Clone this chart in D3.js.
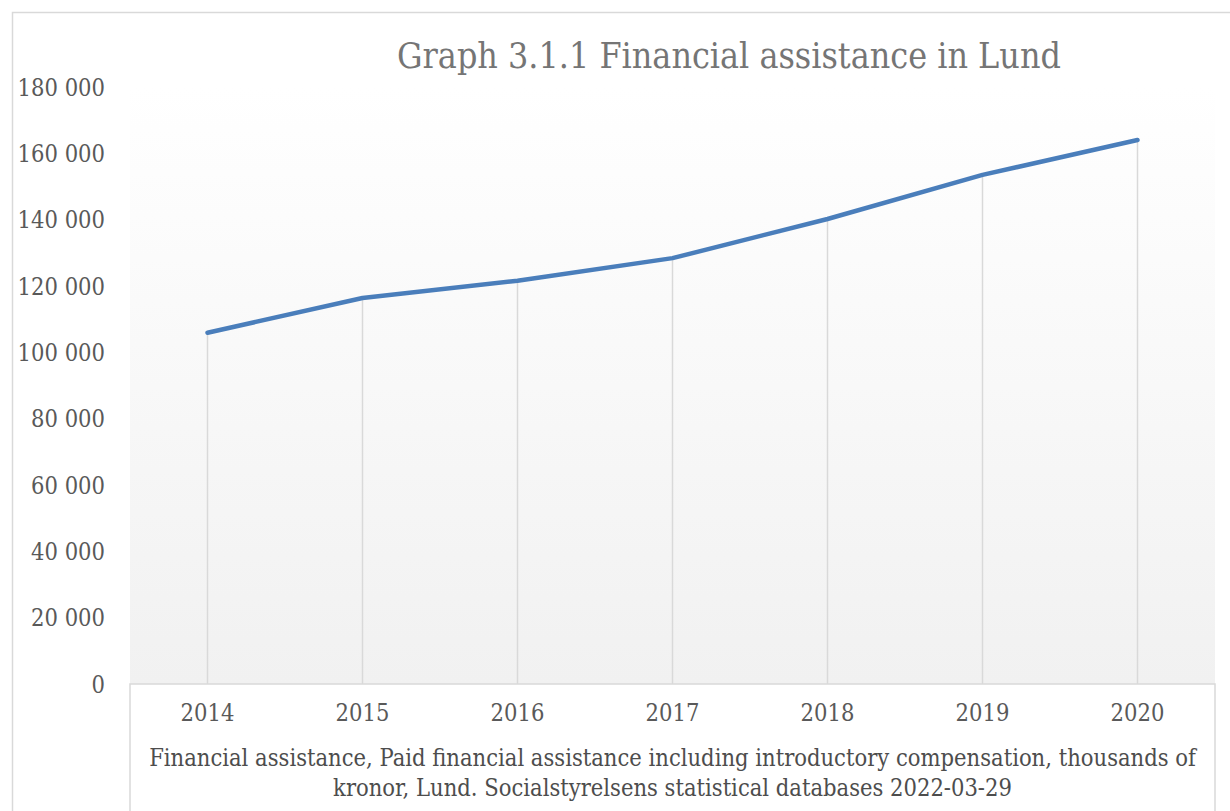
<!DOCTYPE html>
<meta charset="utf-8">
<script src="https://d3js.org/d3.v7.min.js"></script>
<style>
  body { margin: 0; background: #fff; }
  text { font-family: "DejaVu Serif Condensed", "DejaVu Serif", serif; }
</style>
<div id="my_dataviz"></div>
<script>
// data
var years = ["2014", "2015", "2016", "2017", "2018", "2019", "2020"];
var values = [105900, 116400, 121600, 128400, 140200, 153500, 164000];
var yTicks = [0, 20000, 40000, 60000, 80000, 100000, 120000, 140000, 160000, 180000];
var title = "Graph 3.1.1 Financial assistance in Lund";
var note = ["Financial assistance, Paid financial assistance including introductory compensation, thousands of",
            "kronor, Lund. Socialstyrelsens statistical databases 2022-03-29"];

var W = 1230, H = 811;
var margin = {top: 87, right: 15, bottom: 127, left: 130},
    width = W - margin.left - margin.right,
    height = H - margin.top - margin.bottom;

var svg = d3.select("#my_dataviz")
  .append("svg")
    .attr("width", W)
    .attr("height", H);

// outer chart border
svg.append("rect")
  .attr("x", 12.5).attr("y", 12.5)
  .attr("width", W + 20).attr("height", H + 20)
  .attr("fill", "none")
  .attr("stroke", "#d9d9d9")
  .attr("stroke-width", 1.5);

// plot background gradient
var grad = svg.append("defs").append("linearGradient")
  .attr("id", "bg").attr("x1", 0).attr("y1", 0).attr("x2", 0).attr("y2", 1);
grad.append("stop").attr("offset", "0%").attr("stop-color", "#ffffff");
grad.append("stop").attr("offset", "100%").attr("stop-color", "#f1f1f1");

var g = svg.append("g")
  .attr("transform", "translate(" + margin.left + "," + margin.top + ")");

g.append("rect")
  .attr("x", 0).attr("y", 0)
  .attr("width", width).attr("height", height)
  .attr("fill", "url(#bg)");

var x = d3.scaleBand()
  .domain(years)
  .range([0, width]);

var y = d3.scaleLinear()
  .domain([0, 180000])
  .range([height, 0]);

var fmt = function(d) { return d3.format(",")(d).replace(/,/g, " "); };

// box under the category axis
g.append("path")
  .attr("d", "M0," + (height + 130) + "V" + height + "H" + width + "V" + (height + 130))
  .attr("fill", "#fff")
  .attr("stroke", "#d9d9d9")
  .attr("stroke-width", 1.5);

// y axis labels
var yAxis = g.append("g")
  .attr("transform", "translate(-22,0)")
  .call(d3.axisLeft(y).tickValues(yTicks).tickFormat(fmt).tickSize(0));
yAxis.select(".domain").remove();
yAxis.selectAll("text")
  .attr("fill", "#595959")
  .style("font-size", "23.5px")
  .attr("dy", "0.35em");

// x axis labels
var xAxis = g.append("g")
  .attr("transform", "translate(0," + height + ")")
  .call(d3.axisBottom(x).tickSize(0));
xAxis.select(".domain").remove();
xAxis.selectAll("text")
  .attr("fill", "#595959")
  .style("font-size", "23.5px")
  .attr("y", 20);

// drop lines
g.append("g")
  .selectAll("line")
  .data(values)
  .enter()
  .append("line")
    .attr("x1", function(d, i) { return x(years[i]) + x.bandwidth() / 2; })
    .attr("x2", function(d, i) { return x(years[i]) + x.bandwidth() / 2; })
    .attr("y1", function(d) { return y(d); })
    .attr("y2", height)
    .attr("stroke", "#d9d9d9")
    .attr("stroke-width", 1.5);

// the line
var line = d3.line()
  .x(function(d, i) { return x(years[i]) + x.bandwidth() / 2; })
  .y(function(d) { return y(d); });

g.append("path")
  .datum(values)
  .attr("d", line)
  .attr("fill", "none")
  .attr("stroke", "#4a7ebb")
  .attr("stroke-width", 4.5)
  .attr("stroke-linecap", "round")
  .attr("stroke-linejoin", "round");

// title
svg.append("text")
  .attr("x", 729)
  .attr("y", 68)
  .attr("text-anchor", "middle")
  .attr("fill", "#757575")
  .style("font-size", "35.5px")
  .text(title);

// footnote
svg.append("g")
  .selectAll("text")
  .data(note)
  .enter()
  .append("text")
    .attr("x", margin.left + width / 2)
    .attr("y", function(d, i) { return 766 + i * 30; })
    .attr("text-anchor", "middle")
    .attr("fill", "#4d4d4d")
    .style("font-size", "23.5px")
    .text(function(d) { return d; });
</script>
